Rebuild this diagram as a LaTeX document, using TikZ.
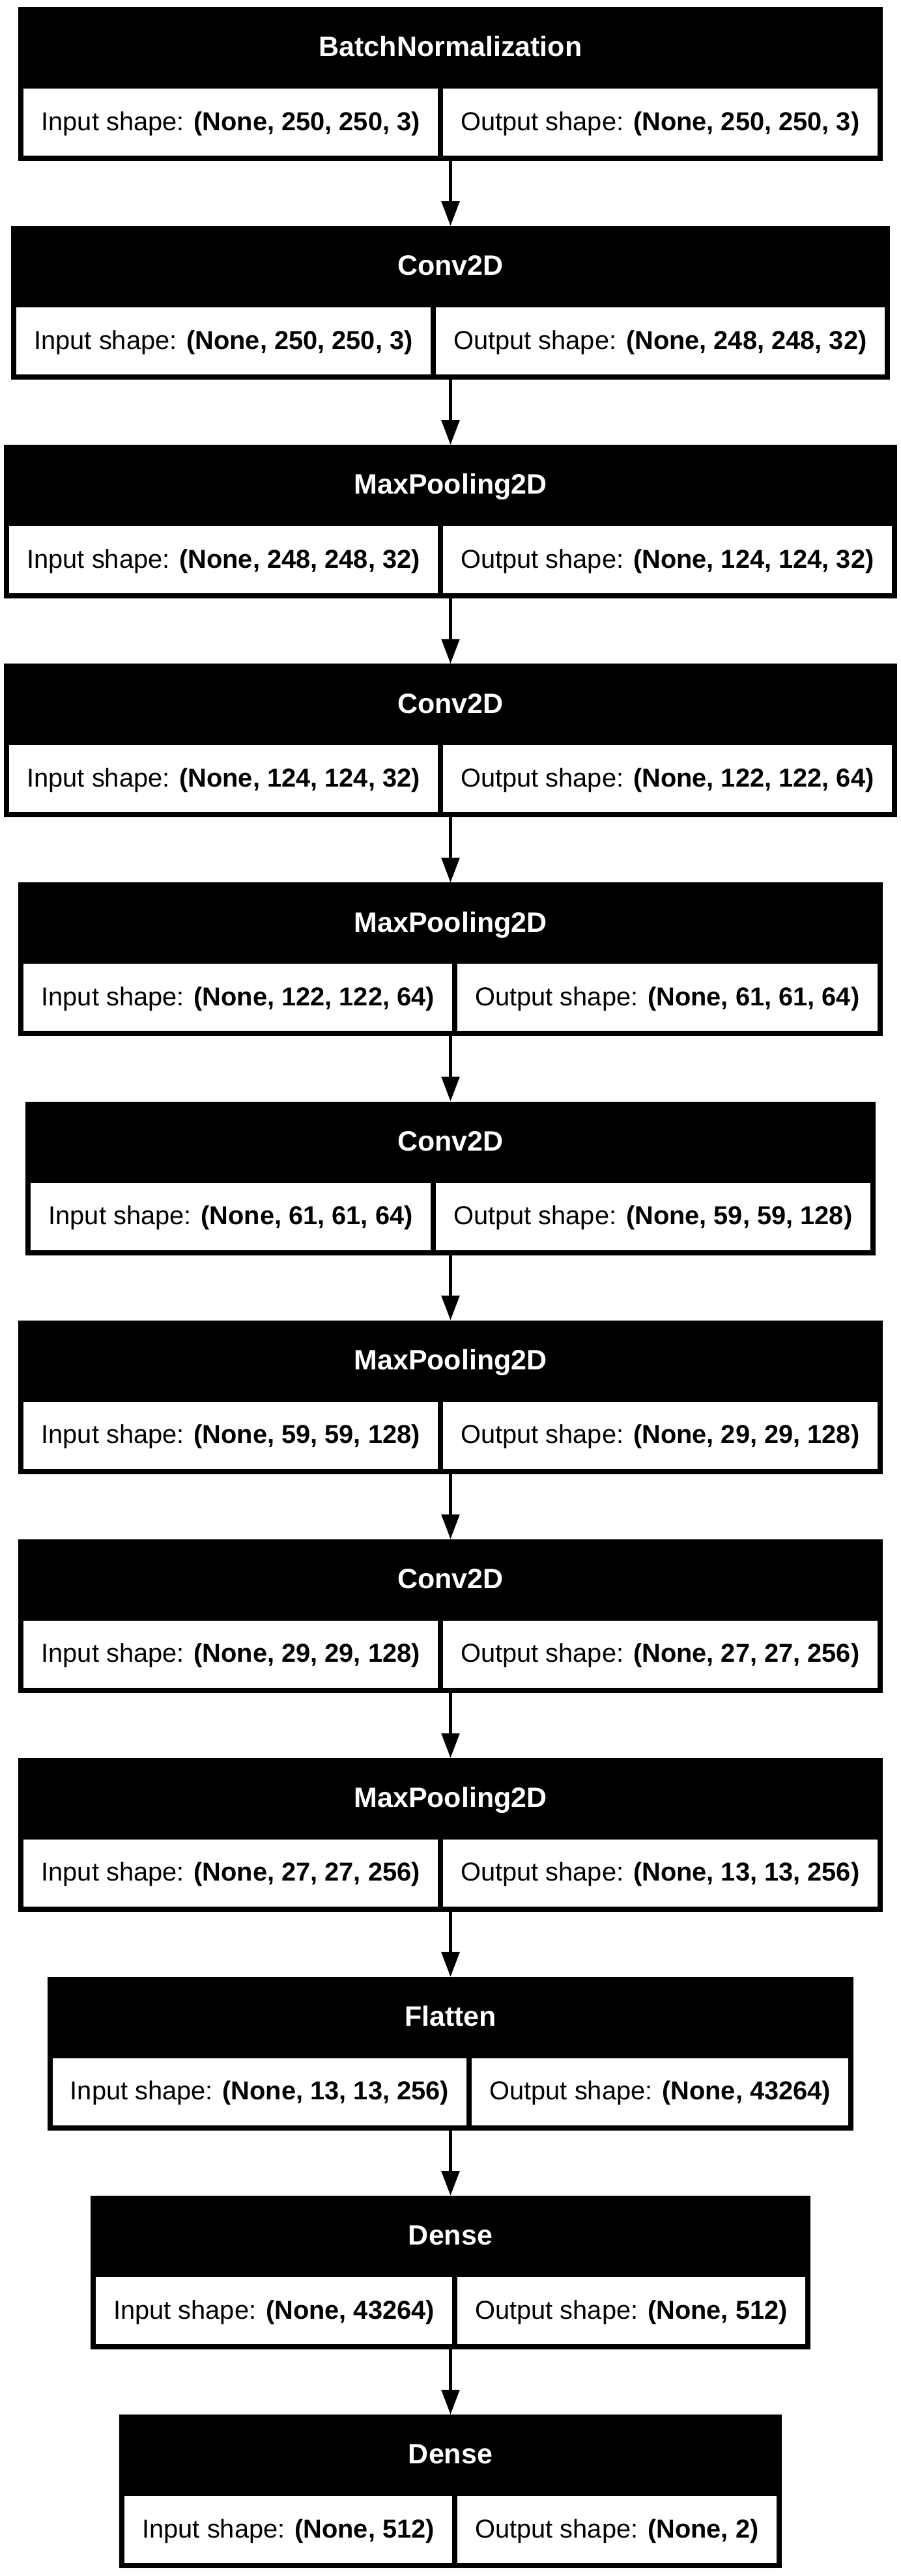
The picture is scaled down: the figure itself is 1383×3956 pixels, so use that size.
\documentclass[tikz,border=0pt]{standalone}
\usepackage{fontspec}
\setmainfont{Liberation Sans}
\usetikzlibrary{arrows.meta,fit}
\newcommand\cellfont{\fontsize{39.8pt}{48pt}\selectfont}
\newcommand\headfont{\fontsize{43pt}{52pt}\selectfont\bfseries}
\def\cx{691.5}
\tikzset{
  blkm/.style={fill=black, draw=none, inner sep=8pt, outer sep=0pt, column sep=8pt, ampersand replacement=\&},
  hbar/.style={fill=black, draw=none, inner sep=0pt, outer sep=0pt},
  hdr/.style={text=white, font=\headfont, inner sep=0pt, anchor=base},
  cell/.style={fill=white, draw=none, inner xsep=27.3pt, inner ysep=0pt, outer sep=0pt, minimum height=103pt,
    font=\cellfont, text height=35.8pt, text depth=10.8pt},
  arr/.style={line width=5.5pt, -{Triangle[width=27pt,length=38pt]}}
}
\newcommand\layerblock[5]{%
  \matrix[blkm, anchor=north] (#1) at (\cx,#2+117) {
    \node[cell] (#1-i) {Input shape: \textbf{#4}}; \& \node[cell] (#1-o) {Output shape: \textbf{#5}}; \\
  };
  \coordinate (#1-top) at ([yshift=117pt]#1.north);
  \node[hbar, fit=(#1.north west)(#1.north east)(#1-top)] (#1-h) {};
  \node[hdr] (#1-t) at ([yshift=41.3pt]#1.north) {#3};
}
\begin{document}
\begin{tikzpicture}[x=1pt,y=-1pt]
\useasboundingbox[fill=white] (0,0) rectangle (1383,3956);
\layerblock{b0}{11}{BatchNormalization}{(None, 250, 250, 3)}{(None, 250, 250, 3)}
\layerblock{b1}{347.1}{Conv2D}{(None, 250, 250, 3)}{(None, 248, 248, 32)}
\layerblock{b2}{683.2}{MaxPooling2D}{(None, 248, 248, 32)}{(None, 124, 124, 32)}
\layerblock{b3}{1019.3}{Conv2D}{(None, 124, 124, 32)}{(None, 122, 122, 64)}
\layerblock{b4}{1355.4}{MaxPooling2D}{(None, 122, 122, 64)}{(None, 61, 61, 64)}
\layerblock{b5}{1691.5}{Conv2D}{(None, 61, 61, 64)}{(None, 59, 59, 128)}
\layerblock{b6}{2027.6}{MaxPooling2D}{(None, 59, 59, 128)}{(None, 29, 29, 128)}
\layerblock{b7}{2363.7}{Conv2D}{(None, 29, 29, 128)}{(None, 27, 27, 256)}
\layerblock{b8}{2699.8}{MaxPooling2D}{(None, 27, 27, 256)}{(None, 13, 13, 256)}
\layerblock{b9}{3035.9}{Flatten}{(None, 13, 13, 256)}{(None, 43264)}
\layerblock{b10}{3372}{Dense}{(None, 43264)}{(None, 512)}
\layerblock{b11}{3708}{Dense}{(None, 512)}{(None, 2)}
\foreach \a/\b in {b0/b1,b1/b2,b2/b3,b3/b4,b4/b5,b5/b6,b6/b7,b7/b8,b8/b9,b9/b10,b10/b11}
  \draw[arr] (\a.south) -- (\b-h.north);
\end{tikzpicture}
\end{document}
